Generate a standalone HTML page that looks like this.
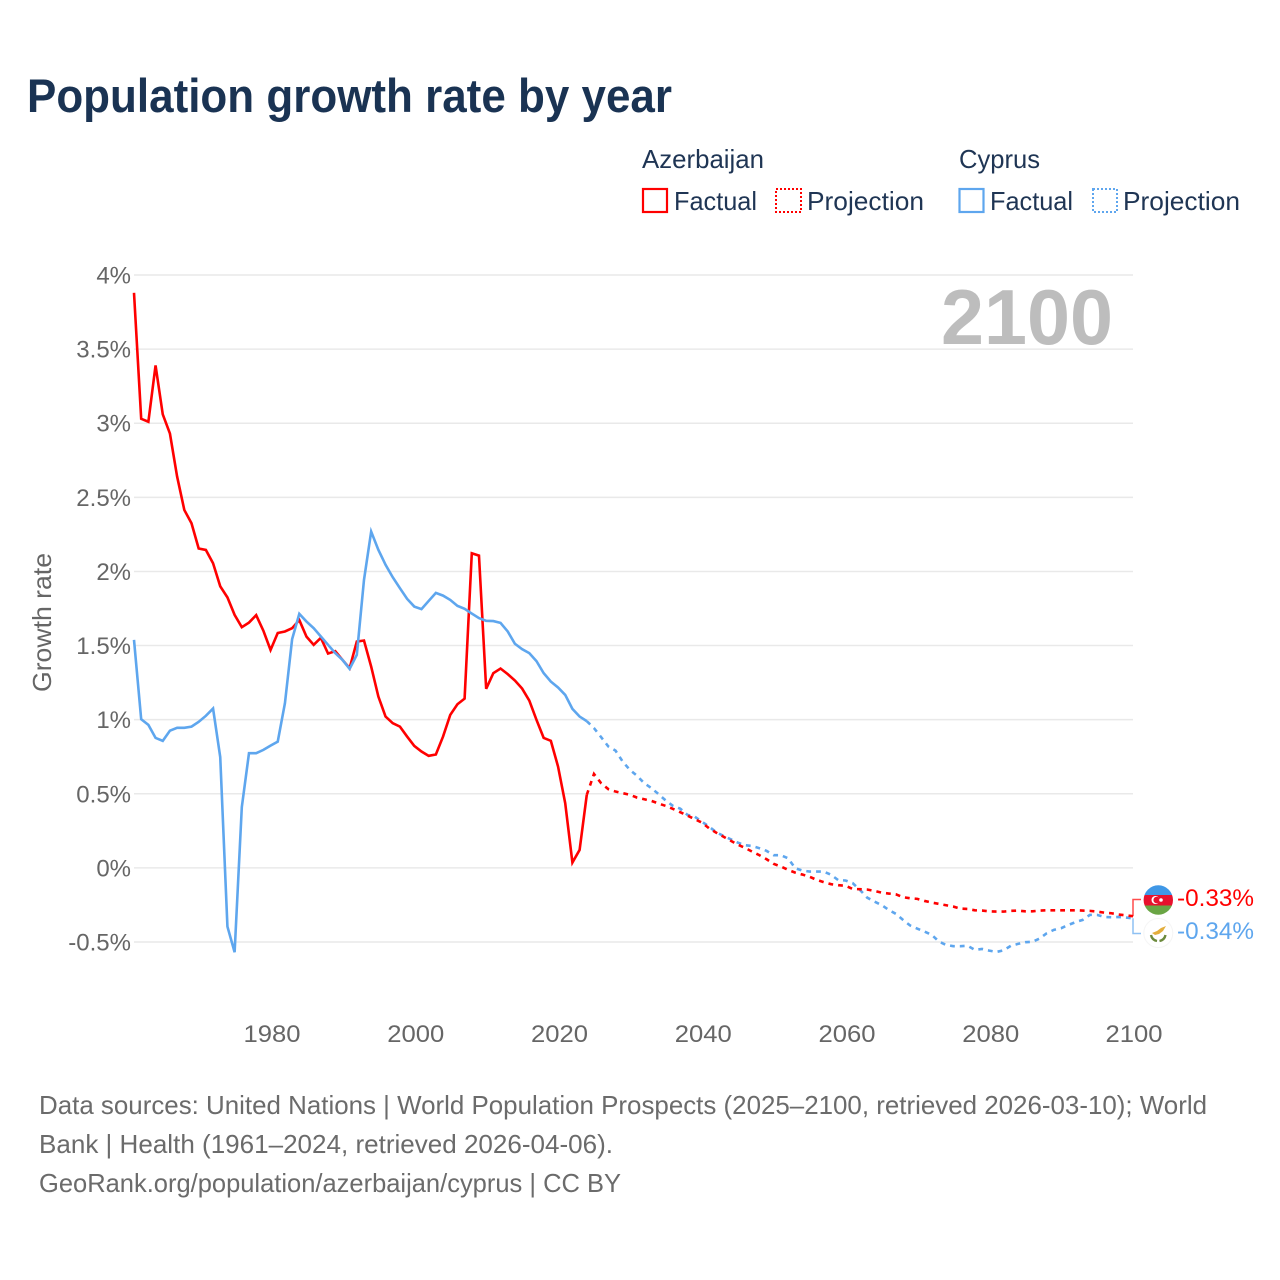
<!DOCTYPE html>
<html lang="en">
<head>
<meta charset="utf-8">
<title>Population growth rate by year</title>
<style>
html,body{margin:0;padding:0;background:#fff;}
svg{display:block;}
text{font-family:"Liberation Sans",sans-serif;}
</style>
</head>
<body>
<svg id="chart" xmlns="http://www.w3.org/2000/svg" width="1280" height="1280" viewBox="0 0 1280 1280">
  <rect x="0" y="0" width="1280" height="1280" fill="#ffffff"/>
  <text x="27" y="112" font-size="47" font-weight="700" fill="#1a3353" textLength="645" lengthAdjust="spacingAndGlyphs">Population growth rate by year</text>

  <g font-size="26" fill="#1f3554">
    <text x="642" y="168" textLength="122" lengthAdjust="spacingAndGlyphs">Azerbaijan</text>
    <rect x="643" y="189" width="24" height="23" fill="none" stroke="#ff0000" stroke-width="2.2"/>
    <text x="674" y="210" textLength="83" lengthAdjust="spacingAndGlyphs">Factual</text>
    <rect x="776" y="189" width="25" height="23" fill="none" stroke="#ff0000" stroke-width="2" stroke-dasharray="2 2"/>
    <text x="807" y="210" textLength="117" lengthAdjust="spacingAndGlyphs">Projection</text>
    <text x="959" y="168" textLength="81" lengthAdjust="spacingAndGlyphs">Cyprus</text>
    <rect x="959.5" y="189" width="24" height="23" fill="none" stroke="#5ea6ee" stroke-width="2.2"/>
    <text x="990" y="210" textLength="83" lengthAdjust="spacingAndGlyphs">Factual</text>
    <rect x="1093" y="189" width="24" height="23" fill="none" stroke="#5ea6ee" stroke-width="2" stroke-dasharray="2 2"/>
    <text x="1123" y="210" textLength="117" lengthAdjust="spacingAndGlyphs">Projection</text>
  </g>

  <g id="grid"></g>
  <g id="yticks"></g>
  <g id="xticks"></g>
  <text transform="translate(51,692) rotate(-90)" font-size="26" fill="#666666" textLength="139" lengthAdjust="spacingAndGlyphs">Growth rate</text>
  <text x="941" y="344" font-size="78" font-weight="700" fill="#bdbdbd" textLength="172" lengthAdjust="spacingAndGlyphs">2100</text>

  <g id="series"></g>
  <g id="connectors"></g>

  <g>
    <clipPath id="az-clip"><circle cx="1158.3" cy="900" r="14.7"/></clipPath>
    <g clip-path="url(#az-clip)">
      <rect x="1143" y="885" width="31" height="10" fill="#3f97e6"/>
      <rect x="1143" y="895" width="31" height="10.5" fill="#e8112d"/>
      <rect x="1143" y="905.5" width="31" height="10" fill="#6aa544"/>
    </g>
    <circle cx="1155.5" cy="900" r="4" fill="#ffffff"/>
    <circle cx="1156.7" cy="900" r="3.3" fill="#e8112d"/>
    <circle cx="1161" cy="900" r="1.8" fill="#ffffff"/>
  </g>
  <g>
    <circle cx="1158.3" cy="933" r="14.5" fill="#ffffff" stroke="#f5f5f5" stroke-width="1"/>
    <path d="M1152 933 L1157 931 L1161 928 L1166 926 L1163 931 L1159 934 L1155 935 Z" fill="#e3ae3c"/>
    <path d="M1151 935 Q1152 940 1157 941" fill="none" stroke="#6c8a3c" stroke-width="2.4"/>
    <path d="M1165.500 935 Q1164.500 940 1159.500 941" fill="none" stroke="#6c8a3c" stroke-width="2.4"/>
  </g>
  <text x="1177" y="906" font-size="24" fill="#ff0000" textLength="77" lengthAdjust="spacingAndGlyphs">-0.33%</text>
  <text x="1177" y="939" font-size="24" fill="#5ea6ee" textLength="77" lengthAdjust="spacingAndGlyphs">-0.34%</text>

  <g font-size="26" fill="#6b6b6b">
    <text x="39" y="1114" textLength="1168" lengthAdjust="spacingAndGlyphs">Data sources: United Nations | World Population Prospects (2025–2100, retrieved 2026-03-10); World</text>
    <text x="39" y="1153" textLength="574" lengthAdjust="spacingAndGlyphs">Bank | Health (1961–2024, retrieved 2026-04-06).</text>
    <text x="39" y="1192" textLength="582" lengthAdjust="spacingAndGlyphs">GeoRank.org/population/azerbaijan/cyprus | CC BY</text>
  </g>
</svg>
<script>
const yTickValues = [4, 3.5, 3, 2.5, 2, 1.5, 1, 0.5, 0, -0.5];
const xTickYears = [1980, 2000, 2020, 2040, 2060, 2080, 2100];

const factualYears = [1961,1962,1963,1964,1965,1966,1967,1968,1969,1970,1971,1972,1973,1974,1975,1976,1977,1978,1979,1980,1981,1982,1983,1984,1985,1986,1987,1988,1989,1990,1991,1992,1993,1994,1995,1996,1997,1998,1999,2000,2001,2002,2003,2004,2005,2006,2007,2008,2009,2010,2011,2012,2013,2014,2015,2016,2017,2018,2019,2020,2021,2022,2023,2024];
const projectionYears = [2024,2025,2026,2027,2028,2029,2030,2031,2032,2033,2034,2035,2036,2037,2038,2039,2040,2041,2042,2043,2044,2045,2046,2047,2048,2049,2050,2051,2052,2053,2054,2055,2056,2057,2058,2059,2060,2061,2062,2063,2064,2065,2066,2067,2068,2069,2070,2071,2072,2073,2074,2075,2076,2077,2078,2079,2080,2081,2082,2083,2084,2085,2086,2087,2088,2089,2090,2091,2092,2093,2094,2095,2096,2097,2098,2099,2100];

const azerbaijanFactual = [3.88,3.03,3.01,3.39,3.06,2.93,2.64,2.415,2.325,2.155,2.145,2.055,1.90,1.825,1.707,1.624,1.655,1.705,1.60,1.47,1.585,1.595,1.617,1.672,1.56,1.505,1.552,1.446,1.462,1.404,1.347,1.527,1.534,1.358,1.156,1.021,0.976,0.953,0.886,0.823,0.785,0.756,0.765,0.886,1.032,1.104,1.142,2.123,2.107,1.208,1.314,1.345,1.307,1.264,1.21,1.129,0.999,0.877,0.857,0.684,0.436,0.036,0.121,0.493];
const azerbaijanProjection = [0.493,0.634,0.571,0.531,0.515,0.504,0.493,0.474,0.463,0.452,0.434,0.418,0.398,0.376,0.353,0.329,0.306,0.268,0.238,0.211,0.184,0.157,0.135,0.11,0.086,0.059,0.027,0.009,-0.013,-0.032,-0.045,-0.06,-0.081,-0.097,-0.11,-0.117,-0.12,-0.142,-0.144,-0.146,-0.155,-0.167,-0.173,-0.178,-0.198,-0.205,-0.209,-0.223,-0.234,-0.243,-0.252,-0.261,-0.275,-0.277,-0.286,-0.288,-0.293,-0.295,-0.295,-0.29,-0.288,-0.293,-0.293,-0.288,-0.286,-0.286,-0.286,-0.286,-0.286,-0.288,-0.29,-0.295,-0.302,-0.306,-0.315,-0.32,-0.326];

const cyprusFactual = [1.538,1.003,0.965,0.877,0.857,0.926,0.945,0.945,0.953,0.985,1.026,1.075,0.747,-0.396,-0.569,0.41,0.774,0.774,0.796,0.825,0.852,1.111,1.543,1.714,1.662,1.617,1.561,1.505,1.449,1.404,1.343,1.437,1.943,2.269,2.146,2.045,1.961,1.887,1.815,1.763,1.746,1.801,1.855,1.837,1.808,1.768,1.748,1.716,1.685,1.667,1.665,1.653,1.595,1.512,1.476,1.449,1.395,1.314,1.257,1.217,1.167,1.073,1.021,0.99];
const cyprusProjection = [0.99,0.943,0.882,0.819,0.791,0.717,0.661,0.621,0.571,0.538,0.497,0.454,0.418,0.40,0.358,0.346,0.312,0.279,0.241,0.216,0.194,0.171,0.153,0.148,0.133,0.115,0.086,0.086,0.065,-0.002,-0.018,-0.025,-0.025,-0.025,-0.047,-0.083,-0.085,-0.103,-0.148,-0.2,-0.227,-0.25,-0.283,-0.31,-0.351,-0.389,-0.41,-0.43,-0.452,-0.497,-0.52,-0.528,-0.528,-0.526,-0.553,-0.547,-0.558,-0.567,-0.556,-0.526,-0.513,-0.501,-0.499,-0.477,-0.441,-0.418,-0.407,-0.385,-0.366,-0.351,-0.317,-0.317,-0.331,-0.333,-0.331,-0.335,-0.34];

const SVG_NS = 'http://www.w3.org/2000/svg';
const RED = '#ff0000';
const BLUE = '#5ea6ee';

function xScale(year) {
  return 134 + (year - 1961) * (1133 - 134) / (2100 - 1961);
}
function yScale(value) {
  return 942 + (value + 0.5) * (275 - 942) / 4.5;
}
function linePoints(years, values) {
  return years.map(function (yr, i) {
    return xScale(yr).toFixed(2) + ',' + yScale(values[i]).toFixed(2);
  }).join(' ');
}

const gridGroup = document.getElementById('grid');
const yTickGroup = document.getElementById('yticks');
const xTickGroup = document.getElementById('xticks');
const seriesGroup = document.getElementById('series');
const connectorGroup = document.getElementById('connectors');

yTickValues.forEach(function (v) {
  const gridLine = document.createElementNS(SVG_NS, 'line');
  gridLine.setAttribute('x1', 134);
  gridLine.setAttribute('x2', 1133);
  gridLine.setAttribute('y1', yScale(v));
  gridLine.setAttribute('y2', yScale(v));
  gridLine.setAttribute('stroke', '#e9e9e9');
  gridLine.setAttribute('stroke-width', '1.5');
  
  
  gridGroup.appendChild(gridLine);

  const label = document.createElementNS(SVG_NS, 'text');
  label.setAttribute('x', 131);
  label.setAttribute('y', yScale(v) + 8.5);
  label.setAttribute('text-anchor', 'end');
  label.setAttribute('font-size', '24');
  label.setAttribute('fill', '#666666');
  label.textContent = v + '%';
  
  
  yTickGroup.appendChild(label);
});

xTickYears.forEach(function (yr) {
  const label = document.createElementNS(SVG_NS, 'text');
  label.setAttribute('x', xScale(yr) + (yr === 2100 ? 1 : 1.5));
  label.setAttribute('y', 1042);
  label.setAttribute('text-anchor', 'middle');
  label.setAttribute('font-size', '24');
  label.setAttribute('fill', '#666666');
  label.setAttribute('textLength', '57');
  label.setAttribute('lengthAdjust', 'spacingAndGlyphs');
  label.textContent = yr;
  
  
  xTickGroup.appendChild(label);
});

const azFactualLine = document.createElementNS(SVG_NS, 'polyline');
azFactualLine.setAttribute('points', linePoints(factualYears, azerbaijanFactual));
azFactualLine.setAttribute('fill', 'none');
azFactualLine.setAttribute('stroke', RED);
azFactualLine.setAttribute('stroke-width', '2.6');
azFactualLine.setAttribute('stroke-linejoin', 'miter');


seriesGroup.appendChild(azFactualLine);

const azProjectionLine = document.createElementNS(SVG_NS, 'polyline');
azProjectionLine.setAttribute('points', linePoints(projectionYears, azerbaijanProjection));
azProjectionLine.setAttribute('fill', 'none');
azProjectionLine.setAttribute('stroke', RED);
azProjectionLine.setAttribute('stroke-width', '2.6');
azProjectionLine.setAttribute('stroke-dasharray', '4.8 5');


seriesGroup.appendChild(azProjectionLine);

const cyFactualLine = document.createElementNS(SVG_NS, 'polyline');
cyFactualLine.setAttribute('points', linePoints(factualYears, cyprusFactual));
cyFactualLine.setAttribute('fill', 'none');
cyFactualLine.setAttribute('stroke', BLUE);
cyFactualLine.setAttribute('stroke-width', '2.6');


seriesGroup.appendChild(cyFactualLine);

const cyProjectionLine = document.createElementNS(SVG_NS, 'polyline');
cyProjectionLine.setAttribute('points', linePoints(projectionYears, cyprusProjection));
cyProjectionLine.setAttribute('fill', 'none');
cyProjectionLine.setAttribute('stroke', BLUE);
cyProjectionLine.setAttribute('stroke-width', '2.6');
cyProjectionLine.setAttribute('stroke-dasharray', '4.8 5');


seriesGroup.insertBefore(cyProjectionLine, azProjectionLine);

const xEnd = xScale(2100);
const azConnector = document.createElementNS(SVG_NS, 'polyline');
azConnector.setAttribute('points', xEnd + ',' + yScale(azerbaijanProjection[azerbaijanProjection.length - 1]) + ' ' + xEnd + ',899.5 1141,899.5');
azConnector.setAttribute('fill', 'none');
azConnector.setAttribute('stroke', RED);
azConnector.setAttribute('stroke-opacity', '0.7');
azConnector.setAttribute('stroke-width', '1.5');


connectorGroup.appendChild(azConnector);

const cyConnector = document.createElementNS(SVG_NS, 'polyline');
cyConnector.setAttribute('points', xEnd + ',' + yScale(cyprusProjection[cyprusProjection.length - 1]) + ' ' + xEnd + ',933.5 1141,933.5');
cyConnector.setAttribute('fill', 'none');
cyConnector.setAttribute('stroke', BLUE);
cyConnector.setAttribute('stroke-opacity', '0.7');
cyConnector.setAttribute('stroke-width', '1.5');


connectorGroup.appendChild(cyConnector);
</script>
</body>
</html>
